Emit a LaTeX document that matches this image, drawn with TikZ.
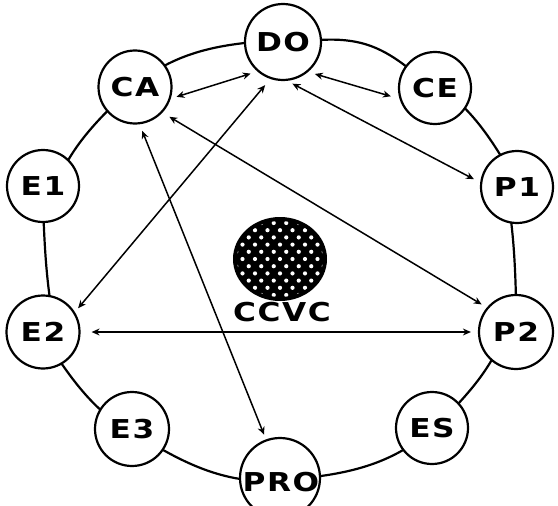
\documentclass[tikz,border=0pt]{standalone}
\usepackage{fontspec}
\usetikzlibrary{arrows.meta,backgrounds}
\newfontfamily\lblfont[UprightFont={* Bold},FakeStretch=1.2,LetterSpace=6]{DejaVu Sans}
\tikzset{
  st/.style={circle, draw, line width=2.2pt, fill=white, minimum size=#1, inner sep=0pt,
    font=\lblfont\fontsize{26}{26}\selectfont},
  ring/.style={line width=2.2pt},
  arr/.style={line width=1.5pt, {Stealth[length=8pt,width=7pt]}-{Stealth[length=8pt,width=7pt]}},
  lbl/.style={inner sep=0pt, font=\lblfont\fontsize{26}{26}\selectfont}
}
\begin{document}
\begin{tikzpicture}[x=1pt,y=-1pt]
\useasboundingbox (0,0) rectangle (558,506);
\clip (0,0) rectangle (558,506);
% nodes
\node[st=76pt] (DO) at (283,42) {DO};
\node[st=73pt] (CA) at (135,87) {CA};
\node[st=72pt] (CE) at (435,88) {CE};
\node[st=72pt] (E1) at (43,186) {E1};
\node[st=73pt] (E2) at (43,332) {E2};
\node[st=72pt] (P1) at (517,187) {P1};
\node[st=74pt] (P2) at (516,332) {P2};
\node[st=74pt] (E3) at (132,429) {E3};
\node[st=72pt] (ES) at (432,428) {ES};
\node[st=80pt] (PRO) at (280,478) {};
\node[lbl] (PROt) at (281,482) {PRO};
% ring
\begin{scope}[on background layer]
\draw[ring] (DO) to[bend left=20] (CE) to[bend left=15] (P1) to[bend left=5] (P2)
  to[bend left=15] (ES) to[bend left=20] (PRO) to[bend left=20] (E3)
  to[bend left=15] (E2) to[bend left=5] (E1) to[bend left=15] (CA) to[bend left=20] (DO);
\end{scope}
% central dotted disc
\fill[black] (280,259) ellipse [x radius=47, y radius=42];
\begin{scope}
  \clip (280,259) ellipse [x radius=43, y radius=38];
  \foreach \r in {-7,...,7} {
    \foreach \c in {-5,...,5} {
      \fill[white] ({280+\c*12.5+mod(abs(\r),2)*6.25},{259+\r*7.2}) circle[radius=2.1pt];
    }
  }
\end{scope}
\node[lbl] (CCVC) at (282,312) {CCVC};
% arrows
\draw[arr, shorten <=7pt, shorten >=6pt] (DO.229) -- (CA.-18);
\draw[arr, shorten <=7pt, shorten >=9pt] (DO.310) -- (CE.197);
\draw[arr, shorten <=8pt, shorten >=5pt] (DO.251) -- (E2.32);
\draw[arr, shorten <=6pt, shorten >=7pt] (DO.276) -- (P1.173);
\draw[arr, shorten <=8pt, shorten >=6pt] (CA.-43) -- (P2.140);
\draw[arr, shorten <=7pt, shorten >=5pt] (CA.277) -- (PRO.110);
\draw[arr, shorten <=11pt, shorten >=7pt] (E2.0) -- (P2.180);
\end{tikzpicture}
\end{document}
